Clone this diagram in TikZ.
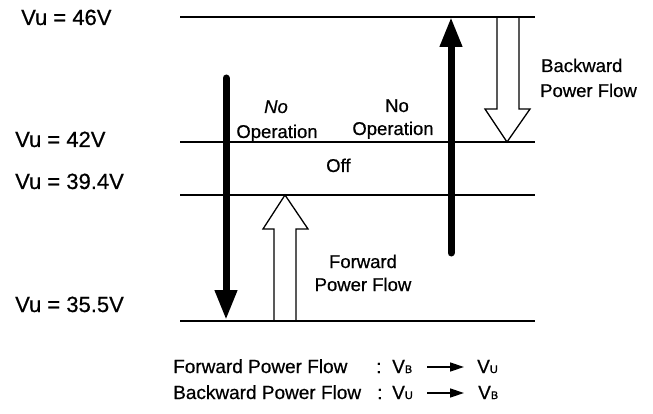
\documentclass[tikz,border=0pt]{standalone}
\usepackage{fontspec}
\setmainfont{Liberation Sans}[FakeBold=0.6]
\usetikzlibrary{arrows.meta}
\begin{document}
\begin{tikzpicture}[x=1pt,y=-1pt,
  level/.style={line width=1.3pt},
  vlabel/.style={font=\fontsize{22}{24}\selectfont, anchor=base west, inner sep=0pt},
  lbl/.style={font=\fontsize{18.5}{22}\selectfont, anchor=base, inner sep=0pt},
  lblw/.style={font=\fontsize{18.5}{22}\selectfont, anchor=base west, inner sep=0pt},
  legend/.style={font=\fontsize{19}{22}\selectfont, anchor=base west, inner sep=0pt},
  blackarrow/.style={line width=7pt, line cap=round, -{Triangle[length=30pt,width=21pt]}},
  hollow/.style={line width=1.3pt, line join=miter},
  smallarrow/.style={line width=1.4pt, -{Triangle[length=14pt,width=9pt]}}]
\useasboundingbox (0,0) rectangle (653,414);
\newcommand{\sbx}[1]{{\fontsize{11}{11}\selectfont #1}}
% levels
\coordinate (l46a) at (180,17);  \coordinate (l46b) at (535,17);
\coordinate (l42a) at (180,142); \coordinate (l42b) at (535,142);
\coordinate (l39a) at (180,195); \coordinate (l39b) at (535,195);
\coordinate (l35a) at (180,321); \coordinate (l35b) at (535,321);
\draw[level] (l46a) -- (l46b);
\draw[level] (l42a) -- (l42b);
\draw[level] (l39a) -- (l39b);
\draw[level] (l35a) -- (l35b);
% level labels
\node[vlabel] (v46) at (21,25) {Vu = 46V};
\node[vlabel] (v42) at (15,147) {Vu = 42V};
\node[vlabel] (v39) at (15,189) {Vu = 39.4V};
\node[vlabel] (v35) at (15,312) {Vu = 35.5V};
% black arrows
\coordinate (dtop) at (226,78);
\coordinate (dtip) at (226,320);
\draw[blackarrow] (dtop) -- (dtip);
\coordinate (ubot) at (451,253);
\coordinate (utip) at (451,17);
\draw[blackarrow] (ubot) -- (utip);
% hollow arrows
\draw[hollow] (274,321) -- (274,229) -- (263,229) -- (285,195) -- (308,229) -- (296,229) -- (296,321);
\draw[hollow] (497,17) -- (497,109) -- (485,109) -- (507,142) -- (530,109) -- (519,109) -- (519,17);
% labels
\node[lbl] (no1) at (276,113) {\itshape No};
\node[lbl] (op1) at (277,138) {Operation};
\node[lbl] (no2) at (397,112) {No};
\node[lbl] (op2) at (393,135) {Operation};
\node[lblw] (off) at (326,172) {Off};
\node[lblw] (bw1) at (541,72) {Backward};
\node[lblw] (bw2) at (540,97) {Power Flow};
\node[lbl] (fw1) at (363,268) {Forward};
\node[lbl] (fw2) at (363,291) {Power Flow};
% legend
\node[legend] (lg1) at (173,373) {Forward Power Flow};
\node[legend] (c1) at (376,373) {:};
\node[legend] (vb1) at (392,373) {V\sbx{B}};
\node[legend] (vu1) at (477,373) {V\sbx{U}};
\coordinate (a1s) at (427,367);
\coordinate (a1e) at (464,367);
\draw[smallarrow] (a1s) -- (a1e);
\node[legend] (lg2) at (173,399) {Backward Power Flow};
\node[legend] (c2) at (377,399) {:};
\node[legend] (vu2) at (392,399) {V\sbx{U}};
\node[legend] (vb2) at (478,399) {V\sbx{B}};
\coordinate (a2s) at (427,393);
\coordinate (a2e) at (464,393);
\draw[smallarrow] (a2s) -- (a2e);
\end{tikzpicture}
\end{document}
